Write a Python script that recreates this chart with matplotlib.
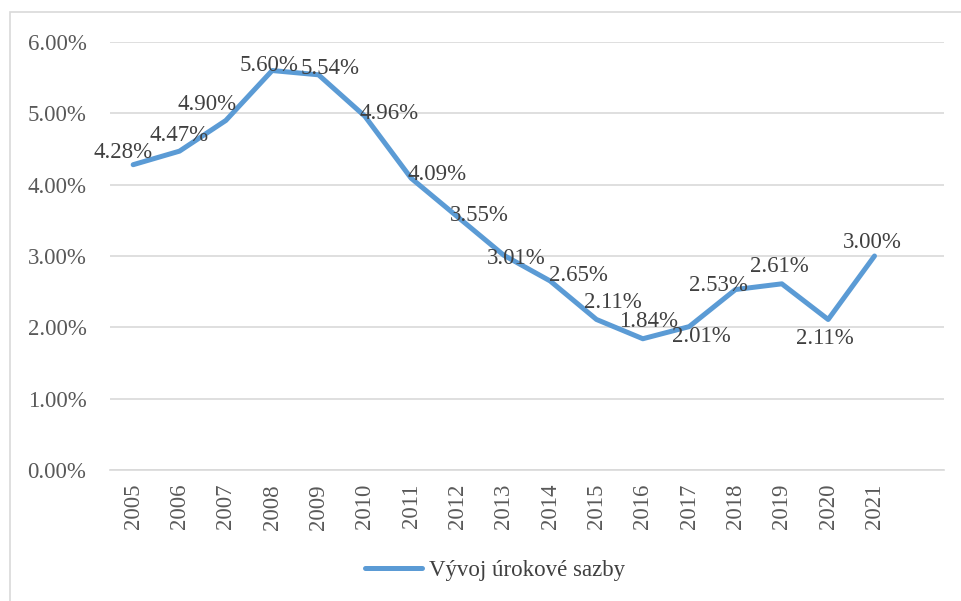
import matplotlib.pyplot as plt
from matplotlib.patches import Rectangle
from matplotlib.lines import Line2D

# --------------------------------------------------
# chart data
# --------------------------------------------------
years = ["2005", "2006", "2007", "2008", "2009", "2010", "2011", "2012", "2013",
         "2014", "2015", "2016", "2017", "2018", "2019", "2020", "2021"]
rates = [4.28, 4.47, 4.90, 5.60, 5.54, 4.96, 4.09, 3.55, 3.01,
         2.65, 2.11, 1.84, 2.01, 2.53, 2.61, 2.11, 3.00]
series_name = "Vývoj úrokové sazby"

# label offsets in pixels (dx right, dy up) to mimic the original placement
label_offsets = [(-10, 12), (0, 16), (-19, 16), (-3, 5), (12, 6), (24, 3),
                 (26, 4), (22, 1), (12, -3), (28, 5), (16, 17), (6, 17),
                 (12, -10), (-17, 4), (-2, 17), (-3, -19), (-2, 14)]

# --------------------------------------------------
# style
# --------------------------------------------------
plt.rcParams["font.family"] = ["Liberation Serif", "DejaVu Serif"]
line_color = "#5B9BD5"
text_color = "#404040"
tick_color = "#595959"
grid_color = "#D9D9D9"
fs = 16.5

W, H = 961, 601
fig = plt.figure(figsize=(W / 100, H / 100), dpi=100)
ax = fig.add_axes([110 / W, 1 - 470 / H, (944 - 110) / W, (470 - 42) / H])

# outer chart border
fig.patches.append(Rectangle((10 / W, -0.01), 1.0, 1 - 12 / H + 0.01,
                             transform=fig.transFigure, fill=False,
                             edgecolor=grid_color, linewidth=1.2))

# --------------------------------------------------
# plot line and labels
# --------------------------------------------------
xs = list(range(len(years)))
ax.plot(xs, rates, color=line_color, linewidth=3.6, solid_capstyle="round",
        solid_joinstyle="round", zorder=3)

for x, y, (dx, dy) in zip(xs, rates, label_offsets):
    ax.annotate(f"{y:.2f}%", (x, y), xytext=(dx * 0.72, dy * 0.72),
                textcoords="offset points", ha="center", va="center",
                fontsize=fs, color=text_color, zorder=4)

# --------------------------------------------------
# axes
# --------------------------------------------------
ax.set_xlim(-0.5, len(years) + 0.5)
ax.set_ylim(0, 6)
ax.set_yticks(range(0, 7))
ax.set_yticklabels([f"{v:.2f}%" for v in range(0, 7)])
ax.set_xticks(xs)
ax.set_xticklabels(years, rotation=90)
ax.tick_params(axis="both", length=0, labelsize=fs, labelcolor=tick_color)
ax.tick_params(axis="x", pad=10)
ax.tick_params(axis="y", pad=17)
ax.grid(axis="y", color=grid_color, linewidth=1.2)
ax.set_axisbelow(True)
for side in ["top", "right", "left"]:
    ax.spines[side].set_visible(False)
ax.spines["bottom"].set_color(grid_color)
ax.spines["bottom"].set_linewidth(1.2)

# legend
handle = Line2D([], [], color=line_color, linewidth=3.6, solid_capstyle="round")
fig.legend([handle], [series_name], loc="center", bbox_to_anchor=(495 / W, 1 - 570 / H),
           frameon=False, fontsize=fs, labelcolor=text_color, handlelength=2.5,
           handletextpad=0.3)

fig.savefig("out.png", dpi=100)
